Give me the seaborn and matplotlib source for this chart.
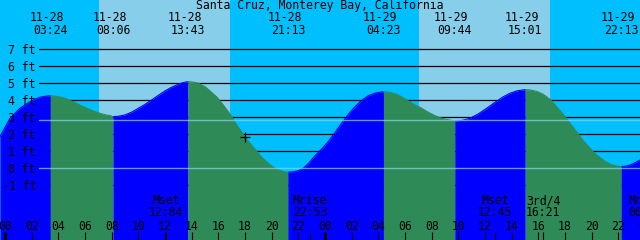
import numpy as np
import pandas as pd
import matplotlib
matplotlib.use("Agg")
import matplotlib.pyplot as plt
import matplotlib.transforms as mtransforms
import seaborn as sns

# ---------------- data ----------------
title = "Santa Cruz, Monterey Bay, California"

extreme_stamps = ["11-28 03:24", "11-28 08:06", "11-28 13:43", "11-28 21:13",
                  "11-29 04:23", "11-29 09:44", "11-29 15:01", "11-29 22:13"]
extreme_types = ["high", "low", "high", "low", "high", "low", "high", "low"]
extreme_ft = [4.27, 3.04, 5.10, -0.24, 4.51, 2.78, 4.63, 0.10]

# tide curve (hours after 11-28 00:00, feet)
curve_hours = [-0.375, 0.375, 1.125, 1.875, 2.3, 2.625, 2.95, 3.9, 4.3, 4.625, 5.2,
               5.87, 6.5, 7.125, 7.5, 7.875, 8.5, 9.0, 9.5, 10.0, 10.5, 11.0, 11.5,
               12.0, 12.5, 13.0, 13.37, 14.1, 14.5, 15.0, 15.375, 15.9, 16.375,
               16.9, 17.375, 18.0, 18.375, 18.9, 19.375, 19.9, 20.375, 20.8, 21.7,
               22.0, 22.375, 22.8, 23.3, 23.8, 24.25, 24.75, 25.25, 25.75, 26.25,
               26.75, 27.25, 27.8, 29.0, 29.5, 30.1, 30.75, 31.125, 31.6, 32.125,
               32.6, 33.125, 34.3, 34.875, 35.5, 36.125, 36.75, 37.375, 37.9,
               38.375, 39.375, 39.9, 40.375, 40.9, 41.375, 41.9, 42.375, 42.9,
               43.375, 43.9, 44.375, 44.9, 45.375, 45.8, 46.6, 46.875, 47.25, 47.625]
curve_ft = [1.86, 2.94, 3.53, 3.92, 4.08, 4.18, 4.23, 4.23, 4.16, 4.08, 3.88,
            3.62, 3.41, 3.23, 3.15, 3.10, 3.06, 3.14, 3.30, 3.53, 3.76, 4.02, 4.29,
            4.55, 4.77, 4.94, 5.04, 5.07, 5.00, 4.80, 4.55, 4.18, 3.72,
            3.16, 2.55, 1.84, 1.47, 0.98, 0.55, 0.20, -0.06, -0.18, -0.20,
            -0.14, 0.00, 0.32, 0.78, 1.17, 1.57, 2.10, 2.65, 3.17, 3.62,
            3.99, 4.27, 4.43, 4.44, 4.31, 4.04, 3.72, 3.59, 3.36, 3.14,
            2.98, 2.88, 2.82, 2.94, 3.20, 3.53, 3.88, 4.21, 4.42,
            4.55, 4.61, 4.52, 4.35, 4.04, 3.62, 3.14, 2.65, 2.11,
            1.61, 1.16, 0.78, 0.46, 0.24, 0.14, 0.13, 0.19, 0.32, 0.49]

sunrise_stamps = ["11-28 07:03", "11-29 07:03"]
sunset_stamps = ["11-28 16:53", "11-29 16:52"]

moon_names = ["Mset", "Mrise", "Mset", "3rd/4", "Mrise"]
moon_stamps = ["11-28 12:04", "11-28 22:53", "11-29 12:45", "11-29 16:21", "11-30 00:01"]

ft_levels = [7, 6, 5, 4, 3, 2, 1, 0, -1]
ft_labels = ["7 ft", "6 ft", "5 ft", "4 ft", "3 ft", "2 ft", "1 ft", "0 ft", "-1 ft"]
msl_ft = 2.82

hour_ticks = list(range(0, 50, 2))
hour_labels = ["%02d" % (h % 24) for h in hour_ticks]
midnights = [0, 24, 48]
now_stamp = "11-28 18:00"
now_ft = 1.84

# ---------------- helpers ----------------
def to_hours(stamp):
    d, t = stamp.split()
    day = int(d.split("-")[1])
    hh, mm = t.split(":")
    return (day - 28) * 24 + int(hh) + int(mm) / 60.0

NIGHT = "#00BFFF"
DAY = "#87CEEB"
FLOOD = "#0000FF"
EBB = "#2E8B57"

X0, X1 = -0.375, 47.625
Y0, Y1 = -4.22, 9.90
W, H = 640, 240

sns.set_theme(style="white")
plt.rcParams["font.family"] = ["DejaVu Sans Mono", "DejaVu Sans"]
FS = 8.3

fig = plt.figure(figsize=(6.4, 2.4), dpi=100)
ax = fig.add_axes([0, 0, 1, 1])
ax.set_xlim(X0, X1)
ax.set_ylim(Y0, Y1)
ax.set_facecolor(NIGHT)
for s in ax.spines.values():
    s.set_visible(False)
ax.set_xticks([])
ax.set_yticks([])
ax.grid(False)

bt = mtransforms.blended_transform_factory(ax.transData, ax.transAxes)
def fy(py):
    return 1 - py / H
def hx(px):
    return X0 + (X1 - X0) * px / W

# daylight
for r, s in zip(sunrise_stamps, sunset_stamps):
    ax.axvspan(to_hours(r), to_hours(s), color=DAY, lw=0, zorder=0.5)

# foot lines (behind water)
x_start = 39 / W
for lv in ft_levels:
    if lv == 0:
        continue
    ax.axhline(lv, xmin=x_start, xmax=1, color="black", lw=0.9, zorder=1)

# tide curve
ext_hours = [to_hours(s) for s in extreme_stamps]
df = pd.DataFrame({"hour": curve_hours + ext_hours, "ft": curve_ft + extreme_ft})
df = df.sort_values("hour").reset_index(drop=True)

bounds = [X0] + ext_hours + [X1]
seg_frames = []
for k in range(len(bounds) - 1):
    a, b = bounds[k], bounds[k + 1]
    if k < len(extreme_types):
        phase = "rising" if extreme_types[k] == "high" else "falling"
    else:
        phase = "rising" if extreme_types[-1] == "low" else "falling"
    sub = df[(df.hour >= a - 1e-9) & (df.hour <= b + 1e-9)].copy()
    sub["phase"] = phase
    sub["seg"] = k
    seg_frames.append(sub)
    ax.fill_between(sub.hour, sub.ft, Y0, color=FLOOD if phase == "rising" else EBB,
                    lw=0, zorder=2)
segs = pd.concat(seg_frames, ignore_index=True)
sns.lineplot(data=segs, x="hour", y="ft", hue="phase", units="seg", estimator=None,
             palette={"rising": FLOOD, "falling": EBB}, legend=False, lw=0.8,
             ax=ax, zorder=2.1)
ax.set_xlabel("")
ax.set_ylabel("")
ax.set_xlim(X0, X1)
ax.set_ylim(Y0, Y1)

# datum and mean sea level lines
for lv in (0, msl_ft):
    ax.axhline(lv, xmin=x_start, xmax=1, color=DAY, lw=1.0, alpha=0.75, zorder=3)

# ft labels
for lv, lab in zip(ft_levels, ft_labels):
    ax.text(hx(36), lv, lab, ha="right", va="center_baseline", fontsize=FS,
            color="black", zorder=6)

# title
ax.text(0.5, fy(5.5), title, transform=ax.transAxes, ha="center", va="center",
        fontsize=FS, color="black", zorder=6)

# tide event labels
for st in extreme_stamps:
    h = to_hours(st)
    d, t = st.split()
    ax.text(h - 3.5 / 13.333, fy(17.5), d, transform=bt, ha="center", va="center",
            fontsize=FS, color="black", zorder=6)
    ax.text(h, fy(30), t, transform=bt, ha="center", va="center",
            fontsize=FS, color="black", zorder=6)

# moon events
for name, st in zip(moon_names, moon_stamps):
    h = to_hours(st)
    t = st.split()[1]
    ax.text(h, fy(201), name, transform=bt, ha="center", va="center",
            fontsize=FS, color="black", zorder=6)
    ax.text(h, fy(213), t, transform=bt, ha="center", va="center",
            fontsize=FS, color="black", zorder=6)
    ax.vlines(h, 0, fy(232), transform=bt, color="black", lw=0.8, zorder=6)

# hour ticks & labels
for h, lab in zip(hour_ticks, hour_labels):
    ax.text(h, fy(226), lab, transform=bt, ha="center", va="center",
            fontsize=FS, color="black", zorder=6)
    lw = 2.2 if h in midnights else 0.8
    ax.vlines(h, 0, fy(232), transform=bt, color="black", lw=lw, zorder=6)

# current-time cross
ax.plot([to_hours(now_stamp)], [now_ft], marker="+", ms=7, mew=0.9,
        color="black", zorder=6)

fig.savefig("out.png", dpi=100)
